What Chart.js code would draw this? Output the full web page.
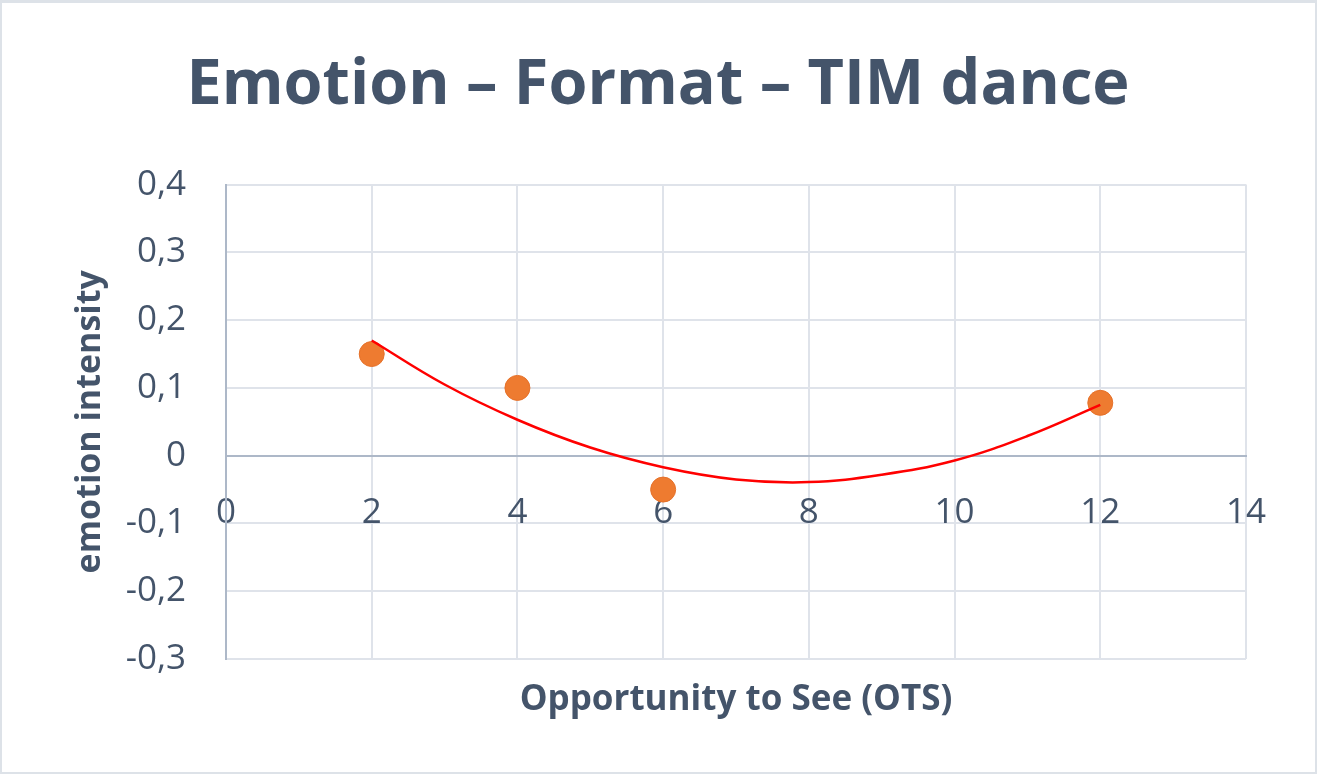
<!DOCTYPE html>
<html>
<head>
<meta charset="utf-8">
<script src="https://cdn.jsdelivr.net/npm/chart.js@4.4.0/dist/chart.umd.min.js"></script>
<style>
body{margin:0;background:#fff;}
#wrap{position:relative;width:1319px;height:776px;}
#frame{position:absolute;left:0;top:0;width:1317px;height:774px;box-sizing:border-box;border:2px solid #dde2e8;border-top-width:3px;pointer-events:none;}
</style>
</head>
<body>
<div id="wrap">
<canvas id="emotionChart" width="1319" height="776"></canvas>
<div id="frame"></div>
</div>
<script>
// OTS vs emotion intensity (points)
const otsValues = [2, 4, 6, 12];
const emotionValues = [0.15, 0.10, -0.05, 0.078];

// polynomial trendline
const trendX = [2, 3, 4, 5, 6, 7, 8, 9, 10, 11, 12];
const trendY = [0.170, 0.105, 0.053, 0.012, -0.017, -0.035, -0.039, -0.028, -0.007, 0.029, 0.075];

// axis ranges
const xTicks = [0, 2, 4, 6, 8, 10, 12, 14];
const yTicks = [-0.3, -0.2, -0.1, 0, 0.1, 0.2, 0.3, 0.4];

const textColor = "#44546a";
const gridColor = "#dfe3ea";
const axisColor = "#adb8c8";
const fontFamily = "'Open Sans', sans-serif";

const ctx = document.getElementById("emotionChart");

const chart = new Chart(ctx, {

    type: "scatter",

    data: {
        datasets: [
            {
                label: "Trend",
                data: trendX.map((x, i) => ({x: x, y: trendY[i]})),
                showLine: true,
                borderColor: "#ff0000",
                borderWidth: 2.5,
                pointRadius: 0,
                tension: 0.4,
                fill: false,
                order: 0
            },
            {
                label: "Emotion",
                data: otsValues.map((x, i) => ({x: x, y: emotionValues[i]})),
                backgroundColor: "#ee7b30",
                borderColor: "#e5712a",
                borderWidth: 1,
                pointRadius: 12.5,
                order: 1
            }
        ]
    },

    options: {
        responsive: false,
        animation: false,
        layout: {
            padding: {left: 70, right: 73, top: 0, bottom: 37}
        },
        plugins: {
            legend: {display: false},
            tooltip: {enabled: false},
            title: {
                display: true,
                text: "Emotion – Format – TIM dance",
                color: textColor,
                font: {family: fontFamily, size: 63, weight: "bold"},
                padding: {top: 48, bottom: 61}
            }
        },
        scales: {
            x: {
                type: "linear",
                position: {y: 0},
                min: xTicks[0],
                max: xTicks[xTicks.length - 1],
                ticks: {
                    stepSize: 2,
                    color: textColor,
                    font: {family: fontFamily, size: 35},
                    padding: 36,
                    maxRotation: 0
                },
                grid: {color: gridColor, lineWidth: 2, drawTicks: false},
                border: {color: axisColor, width: 2}
            },
            xTitle: {
                type: "linear",
                position: "bottom",
                min: xTicks[0],
                max: xTicks[xTicks.length - 1],
                ticks: {display: false},
                grid: {display: false},
                border: {display: false},
                title: {
                    display: true,
                    text: "Opportunity to See (OTS)",
                    color: textColor,
                    font: {family: fontFamily, size: 35, weight: "bold"},
                    padding: {top: 12, bottom: 18}
                }
            },
            y: {
                min: yTicks[0],
                max: yTicks[yTicks.length - 1],
                afterFit: scale => { scale.width = 156; },
                ticks: {
                    stepSize: 0.1,
                    color: textColor,
                    font: {family: fontFamily, size: 35},
                    padding: 40,
                    callback: v => Math.abs(v) < 1e-9 ? "0" : v.toFixed(1).replace(".", ",")
                },
                grid: {
                    color: c => (c.tick && Math.abs(c.tick.value) < 1e-9) ? "rgba(0,0,0,0)" : gridColor,
                    lineWidth: 2,
                    drawTicks: false
                },
                border: {color: axisColor, width: 2},
                title: {
                    display: true,
                    text: "emotion intensity",
                    color: textColor,
                    font: {family: fontFamily, size: 34, weight: "bold"},
                    padding: {top: 0, bottom: 0}
                }
            }
        }
    }
});
</script>
</body>
</html>
